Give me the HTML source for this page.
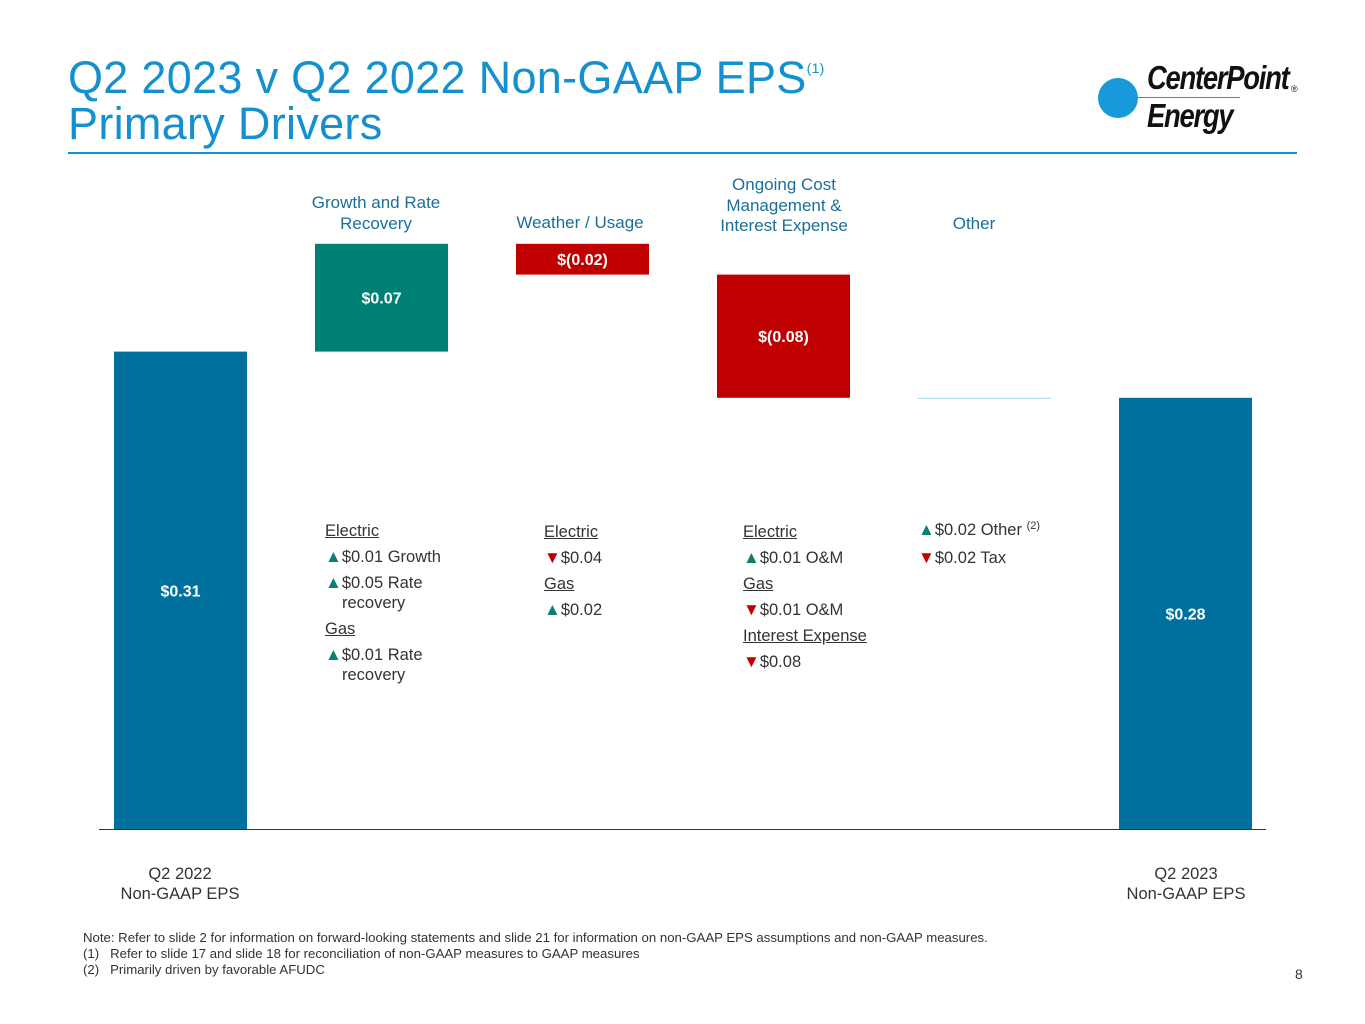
<!DOCTYPE html>
<html><head><meta charset="utf-8"><style>
body{margin:0;width:1365px;height:1024px;background:#fff;font-family:"Liberation Sans",sans-serif;position:relative;overflow:hidden}
.a{position:absolute}
.t{color:#1490cf;font-size:45px;left:68px;line-height:46px;letter-spacing:0.3px;white-space:nowrap}
.h{color:#1a6f98;font-size:17px;text-align:center;line-height:20.5px;width:220px}
.d{font-size:16.5px;color:#333;line-height:26px}
.d u{text-decoration:underline}
.tri{font-size:17px;line-height:10px}
.up{color:#0a7f72}.dn{color:#c00000}
.ind{padding-left:17px;display:block;line-height:20px;margin-top:-3px;margin-bottom:3px}
.xl{font-size:16.5px;color:#333;text-align:center;width:200px;line-height:20px}
.fn{font-size:13.2px;color:#333;left:83px;line-height:16px;white-space:nowrap}
</style></head><body>
<div class="a t" style="top:55px">Q2 2023 v Q2 2022 Non-GAAP EPS<span style="font-size:14px;position:relative;top:-20px">(1)</span></div>
<div class="a t" style="top:101px">Primary Drivers</div>
<div class="a" style="left:68px;top:152px;width:1229px;height:2px;background:#1490cf"></div>
<div class="a" style="left:1098px;top:62px;width:205px;height:80px">
 <div class="a" style="left:0;top:16px;width:40px;height:40px;border-radius:50%;background:#1799dc"></div>
 <div class="a" style="left:20px;top:35px;width:122px;height:1px;background:#1799dc"></div>
 <div class="a" style="left:49px;top:-3px;font-size:33px;font-weight:bold;font-style:italic;letter-spacing:-1.5px;color:#111;transform:scaleX(0.83);transform-origin:left">CenterPoint</div>
 <div class="a" style="left:193px;top:22px;font-size:9px;color:#111">®</div>
 <div class="a" style="left:49px;top:35px;font-size:33px;font-weight:bold;font-style:italic;letter-spacing:-1.5px;color:#111;transform:scaleX(0.83);transform-origin:left">Energy</div>
</div>

<div class="a h" style="left:266px;top:193px">Growth and Rate<br>Recovery</div>
<div class="a h" style="left:470px;top:213px">Weather / Usage</div>
<div class="a h" style="left:674px;top:175px">Ongoing Cost<br>Management &amp;<br>Interest Expense</div>
<div class="a h" style="left:864px;top:214px">Other</div>

<svg class="a" id="chart" style="left:0;top:0" width="1365" height="1024"></svg>

<div class="a d" style="left:325px;top:518px">
<u>Electric</u><br><span class="up tri">▲</span>$0.01 Growth<br><span class="up tri">▲</span>$0.05 Rate<span class="ind">recovery</span><u>Gas</u><br><span class="up tri">▲</span>$0.01 Rate<span class="ind">recovery</span></div>
<div class="a d" style="left:544px;top:519px">
<u>Electric</u><br><span class="dn tri">▼</span>$0.04<br><u>Gas</u><br><span class="up tri">▲</span>$0.02</div>
<div class="a d" style="left:743px;top:519px">
<u>Electric</u><br><span class="up tri">▲</span>$0.01 O&amp;M<br><u>Gas</u><br><span class="dn tri">▼</span>$0.01 O&amp;M<br><u>Interest Expense</u><br><span class="dn tri">▼</span>$0.08</div>
<div class="a d" style="left:918px;top:517px">
<span class="up tri">▲</span>$0.02 Other <span style="font-size:11px;position:relative;top:-6px">(2)</span><br><span class="dn tri">▼</span>$0.02 Tax</div>

<div class="a xl" style="left:80px;top:864px">Q2 2022<br>Non-GAAP EPS</div>
<div class="a xl" style="left:1086px;top:864px">Q2 2023<br>Non-GAAP EPS</div>

<div class="a fn" style="top:930px">Note: Refer to slide 2 for information on forward-looking statements and slide 21 for information on non-GAAP EPS assumptions and non-GAAP measures.<br>(1)&nbsp;&nbsp;&nbsp;Refer to slide 17 and slide 18 for reconciliation of non-GAAP measures to GAAP measures<br>(2)&nbsp;&nbsp;&nbsp;Primarily driven by favorable AFUDC</div>
<div class="a" style="left:1295px;top:966px;font-size:14px;color:#333">8</div>

<script>
const categories=["Q2 2022","Growth and Rate Recovery","Weather / Usage","Ongoing Cost","Other","Q2 2023"];
const deltas=[0.31,0.07,-0.02,-0.08,0,0.28];
const kinds=["total","delta","delta","delta","delta","total"];
const labels=["$0.31","$0.07","$(0.02)","$(0.08)","","$0.28"];
const baseY=829, scale=1540, x0=114, pitch=201, bw=133;
const y=v=>baseY-v*scale;
const xb=i=>x0+i*pitch;
const svg=document.getElementById('chart');
const NS='http://www.w3.org/2000/svg';
let run=0;
categories.forEach((c,i)=>{
  let lo,hi,col;
  if(kinds[i]==='total'){lo=0;hi=deltas[i];run=deltas[i];col='#00709e';}
  else{const s=run;run+=deltas[i];lo=Math.min(s,run);hi=Math.max(s,run);col=deltas[i]>0?'#008074':(deltas[i]<0?'#c00000':'#9fd6ea');}
  const h=Math.max(y(lo)-y(hi),1);
  const r=document.createElementNS(NS,'rect');
  
  
  r.setAttribute('x',xb(i));r.setAttribute('y',y(hi));r.setAttribute('width',bw);r.setAttribute('height',h);r.setAttribute('fill',col);
  svg.appendChild(r);
  if(labels[i]){
    const t=document.createElementNS(NS,'text');
    
    
    t.setAttribute('x',xb(i)+bw/2);t.setAttribute('y',(y(lo)+y(hi))/2+6);
    t.setAttribute('text-anchor','middle');t.setAttribute('fill','#fff');t.setAttribute('font-weight','bold');t.setAttribute('font-size','16');
    t.setAttribute('font-family','Liberation Sans, sans-serif');
    t.textContent=labels[i];svg.appendChild(t);
  }
});
const ax=document.createElementNS(NS,'line');


ax.setAttribute('x1',99);ax.setAttribute('x2',1266);ax.setAttribute('y1',baseY+0.5);ax.setAttribute('y2',baseY+0.5);ax.setAttribute('stroke','#333');
svg.appendChild(ax);
</script>
</body></html>
